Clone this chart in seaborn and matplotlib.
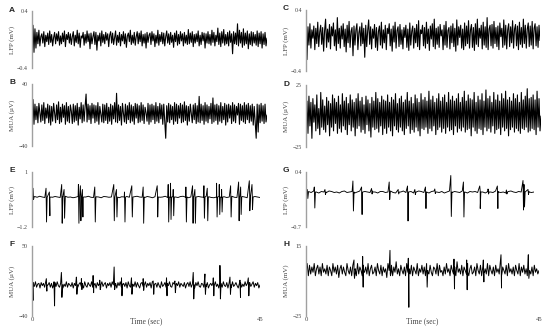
import numpy as np
import matplotlib
matplotlib.use("Agg")
import matplotlib.pyplot as plt
import seaborn as sns

# ---------------- data ----------------
# continuous traces, samples spread evenly over 0-45 s
lfp_a = np.array([
    2, 20, -18, 15, -12, 10, -6, 13, -9, 4, 8, -5, 11, -10, 6, -3, 9, -7, 12, -4,
    7, -9, 3, 10, -6, 8, -2, 11, -8, 5, -6, 9, -3, 12, -10, 7, 0, 10, -5, 8,
    -7, 4, 11, -9, 6, -4, 13, -6, 9, -11, 5, 2, 10, -8, 7, -5, 12, -3, 8, -13,
    9, -6, 4, 11, -7, 10, -15, 6, -2, 9, -9, 12, -4, 7, -6, 10, -1, 8, -10, 6,
    11, -5, 9, -7, 3, 12, -8, 6, -4, 10, -9, 7, -2, 11, -6, 8, -11, 5, 9, -3,
    13, -7, 6, -5, 10, -8, 4, 11, -6, 9, -3, 12, -9, 7, -5, 8, -12, 10, -4, 6,
    9, -7, 11, -2, 8, -10, 6, -5, 13, -8, 7, -3, 10, -6, 9, -9, 4, 12, -5, 8,
    -7, 10, -4, 6, -11, 9, -3, 12, -8, 7, -6, 11, -2, 8, -9, 10, -5, 6, -7, 14,
    -6, 9, -4, 11, -10, 7, -5, 8, -3, 12, -9, 6, -7, 10, -2, 9, -12, 8, -5, 11,
    -6, 7, -8, 13, -4, 10, -9, 6, -3, 16, -7, 9, -10, 11, -5, 14, -8, 7, -6, 10,
    -9, 12, -4, 8, -20, 11, -6, 9, -7, 22, -9, 13, -5, 10, -11, 15, -8, 9, -6, 12,
    -13, 8, -7, 11, -9, 10, -5, 7, -8, 12, -10, 9, -6, 11, -12, 8, -7, 10, -9, 2]) / 100

lfp_c = np.array([
    0, -25, 18, -6, 22, -10, 14, 3, 19, -12, 16, -4, 24, -8, 11, 20, -5, 17, -14, 13,
    28, -9, 15, -2, 21, -11, 18, 6, 23, -7, 14, -13, 30, -4, 16, -10, 19, 2, 22, -8,
    15, -15, 20, -3, 25, -9, 12, 17, -20, 19, -6, 14, 22, -12, 10, 18, -7, 23, -4, 16,
    -22, 20, -8, 13, 27, -5, 18, -11, 15, 3, 21, -9, 17, -13, 12, 19, -6, 24, -10, 14,
    -3, 20, -12, 16, 9, 22, -7, 15, -14, 19, -2, 24, -10, 13, 18, -8, 21, -5, 14, -11,
    17, 4, 20, -9, 15, -13, 23, -6, 12, 19, -10, 16, -3, 21, -8, 26, -12, 14, 9, 20,
    -7, 17, -10, 24, -4, 15, -13, 19, 2, 22, -8, 28, -11, 16, -5, 18, -9, 21, 6, 14,
    -12, 20, -6, 25, -9, 13, 17, -11, 19, -3, 22, -8, 16, -14, 27, -6, 18, 4, 20, -10,
    15, -12, 23, -7, 19, -4, 26, -10, 14, 21, -9, 17, -13, 22, -5, 28, -8, 16, 3, 20,
    -11, 24, -6, 18, -9, 30, -12, 15, 20, -7, 21, -10, 25, -4, 17, -8, 19, -12, 23, 5,
    16, -9, 27, -6, 20, -11, 14, 22, -8, 18, -3, 26, -10, 15, 21, -7, 19, -12, 24, -5,
    17, -9, 28, -4, 20, -10, 15, 23, -8, 19, -6, 25, -11, 16, 22, -7, 18, -9, 20, 0]) / 100

mua_b = [
    0, 20, -12, 14, -6, 11, -10, 15, 3, -9, 13, -7, 16, -11, 9, -4, 14, -10, 12, -13,
    11, -8, 15, 2, -10, 13, -6, 17, -11, 10, -9, 14, -3, 12, -12, 16, -8, 11, -10, 13,
    5, -11, 14, -9, 12, -7, 15, -13, 10, -5, 16, -10, 13, -8, 11, 27, -9, 14, -6, 12,
    -11, 15, -4, 13, -10, 12, -8, 16, -12, 11, 1, -9, 14, -10, 13, -7, 15, -11, 10, -8,
    14, -12, 12, -5, 16, -9, 28, -10, 13, -7, 11, -13, 15, 2, -9, 14, -11, 12, -6, 16,
    -10, 13, -8, 11, -12, 15, -4, 14, -10, 12, -9, 16, -7, 13, -11, 10, 3, -8, 15, -12,
    13, -9, 14, -6, 12, -11, 16, -8, 11, -10, 15, -5, 13, -12, 14, -7, -30, 12, -9, 15,
    -10, 13, -6, 11, -12, 16, -8, 14, -11, 12, -4, 15, -10, 13, -9, 17, -7, 12, -13, 11,
    -8, 14, 2, -10, 13, -6, 15, -11, 12, -9, 24, -10, 14, -7, 12, -12, 16, -8, 13, -10,
    11, -5, 15, -11, 22, -9, 13, -7, 14, -12, 12, -8, 16, -10, 11, -6, 15, -13, 13, -9,
    14, -4, 12, -11, 16, -8, 13, -10, 11, 0, 15, -12, 14, -7, 12, -9, 16, -11, 13, -6,
    15, -10, 12, -8, 14, -13, 11, -9, -30, 14, -22, 13, -10, 15, -8, 12, -11, 14, -9, 0]

mua_d = [
    0, 12, -14, 16, -8, 11, -18, 14, -5, 9, -12, 17, -10, 6, -15, 19, -9, 13, -11, 8,
    -13, 15, -7, 12, -16, 10, -9, 17, -12, 14, -6, 11, -14, 16, -10, 9, -13, 18, -8, 12,
    -11, 15, -15, 10, -7, 17, -12, 13, -9, 11, -16, 14, -10, 18, -8, 12, -13, 15, -11, 9,
    -14, 16, -7, 13, -12, 10, -17, 15, -9, 12, -11, 19, -10, 14, -13, 11, -8, 16, -15, 13,
    -10, 12, -14, 17, -9, 11, -12, 15, -16, 13, -8, 18, -11, 10, -13, 14, -9, 16, -12, 11,
    -15, 13, -10, 19, -8, 12, -14, 15, -11, 10, -13, 17, -9, 14, -12, 11, -16, 18, -10, 13,
    -11, 15, -9, 12, -14, 20, -10, 13, -12, 16, -8, 11, -15, 14, -11, 18, -9, 12, -13, 15,
    -10, 17, -14, 11, -9, 19, -12, 13, -11, 16, -15, 12, -8, 14, -13, 18, -10, 11, -12, 15,
    -9, 20, -13, 12, -11, 17, -10, 14, -16, 13, -9, 19, -12, 11, -14, 16, -10, 13, -11, 18,
    -15, 12, -9, 21, -12, 14, -10, 16, -13, 11, -8, 19, -14, 13, -11, 17, -10, 12, -15, 18,
    -9, 14, -12, 20, -10, 13, -16, 15, -11, 12, -9, 18, -13, 14, -10, 17, -12, 11, -14, 19,
    -10, 13, -11, 16, -9, 22, -13, 14, -12, 15, -10, 17, -11, 13, -15, 20, -9, 14, -12, 0]

# bursting recordings: background + events (time s, positive peak, negative peak)
e_base = np.array([0, 2, -1, 3, 0, -2, 1, -3, -1, 2, 0, -2, 1, 3, -1, 0, -3, -1, 2, 1,
                   -2, 0, 3, -1, -2, 1, 0, -3, 2, 1, -1, 0, 2, -2, -3, 1, 0, 2, -1, -2,
                   1, 3, 0, -1, -2, 2, 0, -3, 1, 2, -1, 0, 3, -2, -1, 1, 0, -2, 2, 3,
                   -1, -3, 0, 1, -2, 2, 0, -1, 3, 1, -2, -3, 0, 2, -1, 1, -2, 0, 3, -1,
                   -2, 1, 2, 0, -3, -1, 1, 2, 0, -2]) / 100
e_times = [0.2, 2.77, 3.43, 5.86, 6.33, 9.16, 9.55, 9.95, 12.39, 16.14, 16.67, 18.25, 19.70,
           21.94, 24.71, 26.88, 27.34, 27.87, 30.37, 31.69, 32.15, 33.93, 34.59, 36.43, 36.96,
           37.42, 39.20, 40.78, 41.18, 42.89, 43.42]
e_up = [0.35, 0.35, 0.2, 0.5, 0.3, 0.5, 0.45, 0.3, 0.4, 0.5, 0.3, 0.2, 0.45, 0.4, 0.45, 0.5,
        0.55, 0.3, 0.4, 0.45, 0.3, 0.45, 0.35, 0.55, 0.5, 0.3, 0.45, 0.6, 0.4, 0.65, 0.5]
e_down = [-0.1, -1.0, -0.75, -1.05, -0.85, -1.05, -0.95, -0.8, -1.0, -0.95, -0.8, -1.0, -0.8,
          -1.05, -0.8, -1.0, -0.9, -0.75, -1.0, -1.05, -1.05, -0.85, -0.95, -0.8, -0.7, -0.6,
          -0.8, -0.95, -0.7, -0.55, -0.5]

g_base = np.array([0, 1, -1, 2, 0, -2, 1, 0, -1, 2, 1, -1, 0, -2, 1, 2, -1, 0, 1, -2,
                   0, 2, -1, 1, 0, -1, 2, 0, -2, 1, 1, -1, 0, 2, -1, -2, 1, 0, 2, -1,
                   0, 1, -2, 0, 2, 1, -1, 0, -2, 1, 2, 0, -1, 1, -2, 0, 2, -1, 1, 0,
                   -1, 2, 0, -2, 1, 0, 1, -1, 2, 0, -2, 1, 0, -1, 2, 1, -1, 0, -2, 1,
                   2, 0, -1, 1, 0, -2, 2, 1, -1, 0]) / 100
g_times = [0.26, 1.64, 3.74, 9.26, 10.97, 12.94, 16.42, 18.2, 20.04, 21.48, 23.58, 25.42,
           28.58, 31.07, 34.29, 35.93, 37.77, 39.55, 42.83, 43.03, 43.82]
g_up = [0.05, 0.1, 0.05, 0.22, 0.1, 0.07, 0.2, 0.05, 0.12, 0.05, 0.1, 0.06, 0.33, 0.2, 0.12,
        0.06, 0.12, 0.04, 0.23, 0.15, 0.05]
g_down = [-0.13, -0.32, -0.05, -0.38, -0.45, -0.04, -0.15, -0.04, -0.58, -0.05, -0.33, -0.03,
          -0.49, -0.5, -0.33, -0.04, -0.33, -0.04, -0.36, -0.3, -0.05]

f_base = [
    0, 3, -2, 4, -3, 1, 2, -4, 3, -1, 2, -3, 4, -2, 0, 3, -3, 2, -4, 1,
    3, -2, 4, -1, -3, 2, 3, -4, 1, -2, 4, -3, 2, 0, -2, 3, -4, 2, -1, 4,
    -3, 1, 3, -2, 2, -4, 4, -1, -3, 3, 0, -2, 4, -3, 1, 2, -4, 3, -1, 2,
    -3, 4, -2, 1, 3, -4, 2, -1, 3, -3, 4, 0, -2, 2, -4, 3, -1, 4, -3, 1,
    2, -2, 3, -4, 4, -1, -3, 2, 1, -2, 4, -3, 3, -1, -4, 2, 3, -2, 0, 4,
    -3, 2, -1, 3, -4, 4, -2, 1, 2, -3, 3, -1, -4, 4, -2, 0, 3, -3, 2, -1,
    4, -2, -3, 3, 1, -4, 2, -1, 4, -3, 2, 0, -2, 3, -4, 1, 3, -2, 4, -3,
    1, 2, -4, 3, -1, 4, -2, -3, 2, 1, -3, 4, -2, 3, -4, 0, 2, -1, 3, -3,
    4, -2, 1, -4, 3, 2, -3, 4, -1, -2, 3, -4, 2, 1, -3, 4, -2, 0, 3, -1,
    -4, 2, 3, -3, 1, -2, 4, -1, 2, -4, 3, -2, 1, 4, -3, 2, -1, 3, -4, 0]
f_times = [0.1, 2.83, 4.35, 5.80, 8.76, 9.75, 12.06, 13.37, 16.21, 17.66, 19.63, 21.94, 23.92,
           26.55, 28.2, 31.82, 34.13, 35.78, 37.09, 39.07, 41.05, 42.69]
f_up = [5, 8, 4, 16, 10, 8, 12, 6, 23, 9, 9, 8, 5, 9, 5, 16, 14, 9, 25, 10, 6, 9]
f_down = [-20, -8, -27, -16, -12, -6, -10, -6, -6, -14, -12, -7, -12, -14, -10, -18, -12, -14,
          -18, -12, -16, -14]

h_base = [
    1, 5, -2, 4, -1, 3, 0, 5, -2, 2, 4, -1, 3, -2, 5, 0, 2, -1, 4, -2,
    3, 1, -2, 5, 0, 3, -1, 4, -3, 2, 4, -1, 3, 0, -2, 5, 1, -1, 3, -2,
    4, 0, 2, -2, 5, -1, 3, 1, -2, 4, 0, 3, -1, 5, -2, 2, 4, -1, 0, 3,
    -2, 5, 1, -1, 4, -2, 3, 0, 2, -3, 5, 1, -1, 4, -2, 3, 0, 6, -1, 2,
    -2, 4, 1, -1, 3, -2, 5, 0, 2, -1, 4, -2, 3, 1, -1, 5, -2, 2, 0, 4,
    -1, 3, -2, 5, 1, -1, 4, 0, -2, 3, 2, -1, 5, -2, 4, 0, 1, -2, 3, -1,
    5, 0, 2, -2, 4, 1, -1, 3, -2, 6, 0, 2, -1, 4, -2, 3, 1, -1, 5, -2,
    2, 4, -1, 0, 3, -2, 5, 1, -1, 4, -2, 3, 0, 2, -1, 5, -2, 4, 1, -1,
    3, -2, 4, 0, 2, -1, 6, -2, 3, 1, -1, 4, -2, 5, 0, 2, -1, 3, -2, 4,
    1, -1, 5, -2, 3, 0, 4, -1, 2, -2, 5, 1, -1, 3, -2, 4, 0, 2, -1, 1]
h_times = [9.27, 10.94, 16.22, 19.76, 23.3, 28.58, 31.03, 34.25, 37.66, 42.94]
h_up = [7, 9, 12.5, 8, 4, 7.5, 7, 7, 10, 10]
h_down = [-3.5, -8.5, -2, -20, -8.5, -9.5, -10, -5.5, -9, -3.5]


def even(vals):
    return np.linspace(0, 45, len(vals)), np.asarray(vals, dtype=float)


def with_events(base, times, ups, downs):
    t = list(np.linspace(0, 45, len(base)))
    v = list(base)
    for tt, up, dn in zip(times, ups, downs):
        t += [tt, tt + 0.1, tt + 0.22]
        v += [up, dn, 0.0]
    order = np.argsort(t, kind="stable")
    return np.array(t)[order], np.array(v)[order]


sns.set_style("white")
plt.rcParams["font.family"] = ["Liberation Serif", "DejaVu Serif"]

W, H = 550, 327
fig = plt.figure(figsize=(5.5, 3.27), dpi=100)

# letter, trace, ylim, tick labels, ylabel, box (left, right, top, bottom px), bottom row, line width
panels = [
    ("A", even(lfp_a), (-0.4, 0.4), ["\u22120.4", "0.4"], "LFP (mV)", (32, 267, 11, 68), False, 0.8),
    ("B", even(mua_b), (-40, 40), ["\u221240", "40"], "MUA (\u00b5V)", (32, 267, 84, 146), False, 0.8),
    ("E", with_events(e_base, e_times, e_up, e_down), (-1.2, 1), ["\u22121.2", "1"], "LFP (mV)",
     (32, 260, 172, 227), False, 0.65),
    ("F", with_events(f_base, f_times, f_up, f_down), (-40, 50), ["\u221240", "50"], "MUA (\u00b5V)",
     (32, 260, 246, 316), True, 0.7),
    ("C", even(lfp_c), (-0.4, 0.4), ["\u22120.4", "0.4"], "LFP (mV)", (306, 540, 10, 71), False, 0.8),
    ("D", even(mua_d), (-25, 25), ["\u221225", "25"], "MUA (\u00b5V)", (306, 541, 85, 147), False, 0.8),
    ("G", with_events(g_base, g_times, g_up, g_down), (-0.7, 0.4), ["\u22120.7", "0.4"], "LFP (mV)",
     (306, 534, 172, 227), False, 0.65),
    ("H", with_events(h_base, h_times, h_up, h_down), (-25, 15), ["\u221225", "15"], "MUA (mV)",
     (306, 539, 246, 316), True, 0.7),
]

for letter, (t, v), ylim, ylabs, ylab, (x0, x1, y0, y1), bottom, lw in panels:
    ax = fig.add_axes([x0 / W, 1 - y1 / H, (x1 - x0) / W, (y1 - y0) / H])
    ax.set_facecolor("none")
    sns.lineplot(x=t, y=v, ax=ax, color="black", linewidth=lw, estimator=None, sort=False)
    ax.set_xlim(0, 45)
    ax.set_ylim(*ylim)
    for s in ["top", "right", "bottom"]:
        ax.spines[s].set_visible(False)
    ax.spines["left"].set_color("#a0a0a0")
    ax.spines["left"].set_linewidth(1.0)
    ax.set_yticks(list(ylim))
    ax.set_yticklabels(ylabs)
    ax.tick_params(axis="y", length=0, pad=3, labelsize=4.3, labelcolor="#444444")
    ax.set_ylabel(ylab, fontsize=5, color="#444444")
    ax.yaxis.set_label_coords(-17 / (x1 - x0), 0.5)
    if bottom:
        ax.set_xticks([0, 45])
        ax.set_xticklabels(["0", "45"])
        ax.tick_params(axis="x", length=0, pad=1, labelsize=4.8, labelcolor="#444444")
        ax.set_xlabel("Time (sec)", fontsize=5.5, color="#444444")
        ax.xaxis.set_label_coords(0.5, -0.02)
        ax.xaxis.label.set_va("top")
    else:
        ax.set_xticks([])
    fig.text((x0 - 23) / W, 1 - (y0 - 1) / H, letter, fontsize=6, fontweight="bold",
             family="Liberation Sans", ha="left", va="center")

fig.savefig("out.png", dpi=100)
